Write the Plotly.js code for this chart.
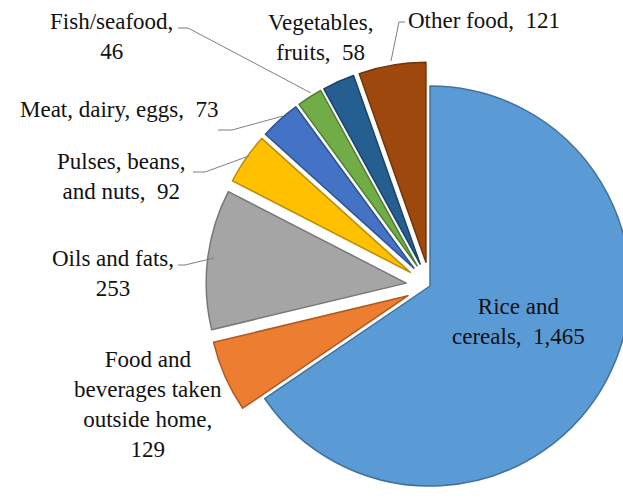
<!DOCTYPE html>
<html>
<head>
<meta charset="utf-8">
<script src="https://cdn.plot.ly/plotly-3.0.1.min.js"></script>
<style>
html, body { margin: 0; padding: 0; overflow: hidden; background: #fff; }
#chart { width: 660px; height: 520px; }
</style>
</head>
<body>
<div id="chart"></div>
<script>
// ---- data ----
var categories = ["Rice and cereals", "Food and beverages taken outside home", "Oils and fats",
  "Pulses, beans, and nuts", "Meat, dairy, eggs", "Fish/seafood", "Vegetables, fruits", "Other food"];
var values = [1465, 129, 253, 92, 73, 46, 58, 121];
// label text as wrapped in the chart
var labelLines = ["Rice and<br>cereals", "Food and<br>beverages taken<br>outside home", "Oils and fats",
  "Pulses, beans,<br>and nuts", "Meat, dairy, eggs", "Fish/seafood", "Vegetables,<br>fruits", "Other food"];
var valueOnNewLine = [false, true, true, false, false, true, false, false];

// ---- styling / layout ----
var colors = ["#5B9BD5", "#ED7D31", "#A5A5A5", "#FFC000", "#4472C4", "#70AD47", "#255E91", "#9E480E"];
var edgeColors = ["#41719C", "#AE5A21", "#787878", "#BC8C00", "#2F528F", "#507E32", "#1B4368", "#71340A"];
var pulls = [0, 0.12, 0.12, 0.12, 0.12, 0.12, 0.12, 0.12];

var W = 660, H = 520, L = 206, T = 62, PW = 448, PH = 448;
function px(x) { return (x - L) / PW; }
function py(y) { return 1 - (y - T) / PH; }

var labelPos = [[518, 321], [148, 404], [113, 273], [121, 176], [119, 110], [111, 36], [320, 38], [484, 20]];
var leaders = [null, null,
  [[178, 265], [185, 265], [214, 258]],
  [[193, 172], [205, 172], [249, 156]],
  [[218, 130], [232, 130], [283, 116]],
  [[178, 28], [188, 28], [311, 93]],
  null,
  [[405, 22], [399, 22], [391, 61]]];

function fmt(v) { return v.toLocaleString("en-US"); }

var FONT = "Liberation Serif";

function buildAnnotations() {
  return categories.map(function (c, i) {
    return {
      xref: "paper", yref: "paper",
      x: px(labelPos[i][0]), y: py(labelPos[i][1]),
      xanchor: "center", yanchor: "middle", align: "center",
      showarrow: false,
      text: labelLines[i] + "," + (valueOnNewLine[i] ? "<br>" : "\u00a0\u00a0") + fmt(values[i]),
      font: { family: FONT, size: 23, color: "#111" }
    };
  });
}

var shapes = [];
leaders.forEach(function (pts) {
  if (!pts) return;
  var d = pts.map(function (p, k) { return (k ? "L" : "M") + px(p[0]) + "," + py(p[1]); }).join(" ");
  shapes.push({ type: "path", xref: "paper", yref: "paper", path: d,
    line: { color: "#7f7f7f", width: 1 } });
});

var trace = {
  type: "pie", labels: categories, values: values, sort: false,
  direction: "clockwise", rotation: 0, pull: pulls, textinfo: "none", hoverinfo: "none",
  marker: { colors: colors, line: { color: edgeColors, width: 1.5 } },
  domain: { x: [0, 1], y: [0, 1] }
};

var layout = {
  width: W, height: H,
  margin: { l: L, r: W - L - PW, t: T, b: H - T - PH, pad: 0 },
  showlegend: false, paper_bgcolor: "#fff",
  font: { family: FONT },
  annotations: buildAnnotations(), shapes: shapes
};

function draw() {
  return Plotly.newPlot("chart", [trace], layout, { staticPlot: true, displayModeBar: false })
    .then(function (gd) {
      // force the labels to be laid out a second time once the font is resolved
      return Plotly.relayout(gd, { annotations: buildAnnotations() });
    });
}

var loader = (document.fonts && document.fonts.load)
  ? document.fonts.load('23px "Liberation Serif"').catch(function () {})
  : Promise.resolve();
draw();
loader.then(function () { draw(); });
</script>
</body>
</html>
